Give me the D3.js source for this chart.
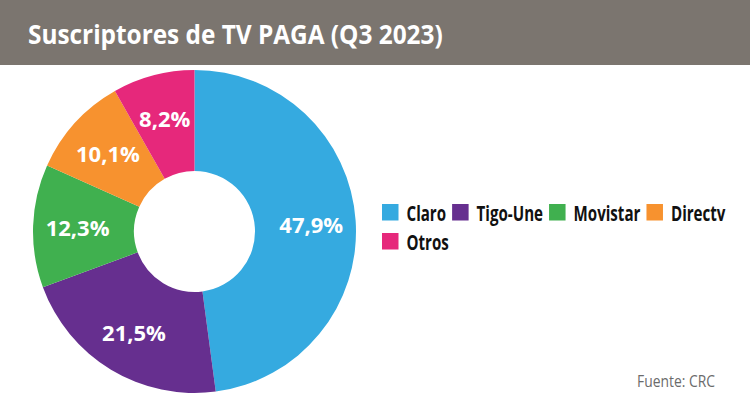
<!DOCTYPE html>
<html>
<head>
<meta charset="utf-8">
<script src="https://cdn.jsdelivr.net/npm/d3@7"></script>
<style>
  html, body { margin: 0; padding: 0; background: #fff; }
  svg { display: block; }
</style>
</head>
<body>
<svg id="chart" width="750" height="400"></svg>
<script>
const categories = ["Claro", "Tigo-Une", "Movistar", "Directv", "Otros"];
const values = [47.9, 21.5, 12.3, 10.1, 8.2];
const valueLabels = ["47,9%", "21,5%", "12,3%", "10,1%", "8,2%"];
const colors = ["#35aae0", "#662f8f", "#40b04f", "#f7922f", "#e6287b"];
const titleText = "Suscriptores de TV PAGA (Q3 2023)";
const sourceText = "Fuente: CRC";

const svg = d3.select("#chart");
const W = 750, H = 400;

// title bar
svg.append("rect").attr("x", 0).attr("y", 0).attr("width", W).attr("height", 65)
  .attr("fill", "#7b756f");
const title = svg.append("text")
  .attr("font-family", "'Open Sans', sans-serif").attr("font-weight", 700)
  .attr("font-size", 26).attr("fill", "#fff")
  .text(titleText);
const tw = title.node().getComputedTextLength();
title.attr("transform", `translate(28,43.5) scale(${415 / tw},1)`);

// donut
const cx = 194.5, cy = 231.5, rOuter = 161.5, rInner = 60.5;
const data = categories.map((c, i) => ({ name: c, value: values[i], label: valueLabels[i], color: colors[i] }));
const pie = d3.pie().value(d => d.value).sort(null);
const arcs = pie(data);
const arc = d3.arc().innerRadius(rInner).outerRadius(rOuter);
const labelArc = d3.arc().innerRadius(117).outerRadius(117);

const g = svg.append("g").attr("transform", `translate(${cx},${cy})`);
g.selectAll("path").data(arcs).join("path")
  .attr("d", arc).attr("fill", d => d.data.color);
g.selectAll("text").data(arcs).join("text")
  .attr("transform", d => `translate(${labelArc.centroid(d)})`)
  .attr("text-anchor", "middle").attr("dominant-baseline", "central")
  .attr("font-family", "'Open Sans', sans-serif").attr("font-weight", 700)
  .attr("font-size", 22).attr("fill", "#fff")
  .text(d => d.data.label);

// legend (flow layout)
const legX0 = 382, legX1 = 735, legY0 = 204, rowH = 29, sq = 16.5, squeeze = 0.72;
const leg = svg.append("g");
let x = legX0, y = legY0;
data.forEach(d => {
  const t = leg.append("text")
    .attr("font-family", "'Open Sans', sans-serif").attr("font-weight", 700)
    .attr("font-size", 21).attr("fill", "#111")
    .text(d.name);
  const w = t.node().getComputedTextLength() * squeeze;
  const itemW = sq + 8 + w;
  if (x + itemW > legX1) { x = legX0; y += rowH; }
  leg.append("rect").attr("x", x).attr("y", y).attr("width", sq).attr("height", sq)
    .attr("fill", d.color);
  t.attr("transform", `translate(${x + sq + 8},${y + sq + 0.5}) scale(${squeeze},1)`);
  x += itemW + 6;
});

// source
const src = svg.append("text").attr("text-anchor", "end")
  .attr("font-family", "'Open Sans', sans-serif").attr("font-size", 16)
  .attr("fill", "#6b6b6b").text(sourceText);
const sw = src.node().getComputedTextLength();
src.attr("transform", `translate(715,387) scale(${78 / sw},1)`);
</script>
</body>
</html>
